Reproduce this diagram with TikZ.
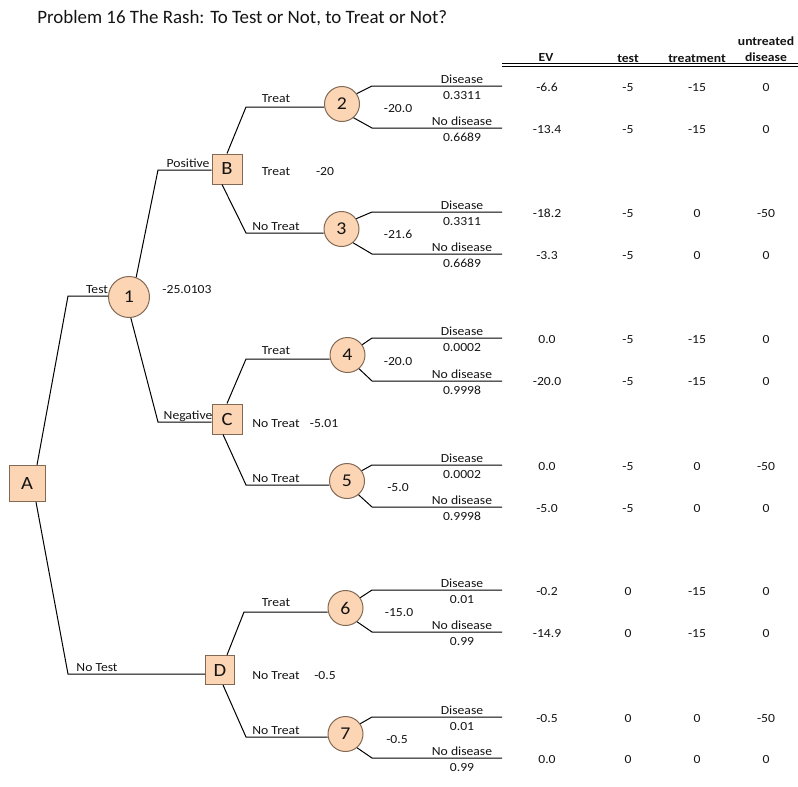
\documentclass[tikz,border=0pt]{standalone}
\usepackage{fontspec}
\setmainfont{Carlito}[FakeStretch=1.1]
\newfontfamily\titlefont{Carlito}
\usetikzlibrary{calc}
\definecolor{nodefill}{RGB}{252,213,180}
\definecolor{nodeborder}{RGB}{130,105,85}
\definecolor{txt}{RGB}{20,20,20}
\begin{document}
\begin{tikzpicture}[x=0.75pt,y=-0.75pt,
  decbox/.style={draw=nodeborder, fill=nodefill, minimum width=#1, minimum height=#1, inner sep=0pt, font=\fontsize{14}{16}\selectfont, line width=0.75pt, text=txt},
  chancenode/.style={circle, draw=nodeborder, fill=nodefill, minimum size=#1, inner sep=0pt, font=\fontsize{13.5}{16}\selectfont, line width=0.75pt, text=txt},
  lbl/.style={inner sep=0pt, font=\fontsize{9.3}{11}\selectfont, text=txt, text height=1.35ex, text depth=0pt},
  hdr/.style={lbl, font=\fontsize{9.3}{11}\selectfont\bfseries},
  br/.style={line width=0.75pt, black}]
\useasboundingbox (0,0) rectangle (798,786);

% title
\node[anchor=west, inner sep=0pt, font=\titlefont\fontsize{14.2}{17}\selectfont, text=txt] (title) at (37,18) {Problem 16 The Rash: To Test or Not, to Treat or Not?};

% table header
\node[hdr] (hEV) at (546,57) {EV};
\node[hdr] (hT) at (628,58) {test};
\node[hdr] (hTr) at (697,58) {treatment};
\node[hdr] (hU1) at (766,41) {untreated};
\node[hdr] (hU2) at (766,57) {disease};
\coordinate (hl1) at (502,63);
\coordinate (hr1) at (798,63);
\coordinate (hl2) at (502,66);
\coordinate (hr2) at (798,66);
\draw[br] (hl1) -- (hr1);
\draw[br] (hl2) -- (hr2);

% nodes
\node[decbox=27pt] (A) at (27,483.5) {A};
\node[chancenode=30.75pt] (n1) at (129,297) {1};
\node[decbox=22.5pt] (B) at (227,169) {B};
\node[decbox=22.5pt] (C) at (227,419) {C};
\node[decbox=21.75pt] (D) at (220,670) {D};
\node[chancenode=26.25pt] (n2) at (342,104) {2};
\node[chancenode=26.25pt] (n3) at (341.5,229) {3};
\node[chancenode=26.25pt] (n4) at (347.5,355) {4};
\node[chancenode=26.25pt] (n5) at (347,481) {5};
\node[chancenode=26.25pt] (n6) at (345.5,608) {6};
\node[chancenode=26.25pt] (n7) at (345.5,734) {7};

% corners
\coordinate (kT) at (68,296);
\coordinate (kNT) at (68,674);
\coordinate (kPos) at (158,170);
\coordinate (kNeg) at (158,422);
\coordinate (kB1) at (246,107);
\coordinate (kB2) at (246,233);
\coordinate (kC1) at (246,359);
\coordinate (kC2) at (246,485);
\coordinate (kD1) at (244,612);
\coordinate (kD2) at (246,737);

% branches
\draw[br] ($(A.north)+(10,0)$) -- (kT) -- (kT -| n1.west);
\draw[br] ($(A.south)+(9,0)$) -- (kNT) -- (kNT -| D.west);
\draw[br] (n1.70) -- (kPos) -- (kPos -| B.west);
\draw[br] (n1.-85) -- (kNeg) -- (kNeg -| C.west);
\draw[br] (B.north) -- (kB1) -- (kB1 -| n2.west);
\draw[br] ($(B.south)+(-5,0)$) -- (kB2) -- (kB2 -| n3.west);
\draw[br] (C.north) -- (kC1) -- (kC1 -| n4.west);
\draw[br] ($(C.south)+(-4,0)$) -- (kC2) -- (kC2 -| n5.west);
\draw[br] ($(D.north)+(7,0)$) -- (kD1) -- (kD1 -| n6.west);
\draw[br] ($(D.south)+(3,0)$) -- (kD2) -- (kD2 -| n7.west);

% branch labels
\node[lbl] (lTest) at (97,289) {Test};
\node[lbl] (lNoTest) at (97,667) {No Test};
\node[lbl] (lPos) at (188,163) {Positive};
\node[lbl] (lNeg) at (188,415) {Negative};
\node[lbl] (lB1) at (276,98) {Treat};
\node[lbl] (lB2) at (276,226) {No Treat};
\node[lbl] (lC1) at (276,350) {Treat};
\node[lbl] (lC2) at (276,478) {No Treat};
\node[lbl] (lD1) at (276,602) {Treat};
\node[lbl] (lD2) at (276,730) {No Treat};

% decision values
\node[lbl] (v1) at (187,289) {-25.0103};
\node[lbl] (vBa) at (276,171) {Treat};
\node[lbl] (vBb) at (325,171) {-20};
\node[lbl] (vCa) at (276,423) {No Treat};
\node[lbl] (vCb) at (324,423) {-5.01};
\node[lbl] (vDa) at (276,675) {No Treat};
\node[lbl] (vDb) at (325,675) {-0.5};

% chance values
\node[lbl] (v2) at (398,108) {-20.0};
\node[lbl] (v3) at (398,234) {-21.6};
\node[lbl] (v4) at (398,361) {-20.0};
\node[lbl] (v5) at (398,487) {-5.0};
\node[lbl] (v6) at (399,612) {-15.0};
\node[lbl] (v7) at (397,739) {-0.5};

% outcome branches
\foreach \n/\yu/\yl/\pa/\pb in {n2/86/128/0.3311/0.6689, n3/212/254/0.3311/0.6689, n4/338/381/0.0002/0.9998, n5/465/507/0.0002/0.9998, n6/590/632/0.01/0.99, n7/717/758/0.01/0.99}{
  \coordinate (\n ku) at (372,\yu);
  \coordinate (\n eu) at (502,\yu);
  \coordinate (\n kl) at (372,\yl);
  \coordinate (\n el) at (502,\yl);
  \draw[br] (\n.35) -- (\n ku) -- (\n eu);
  \draw[br] (\n.-50) -- (\n kl) -- (\n el);
  \node[lbl] at (462,\yu-7) {Disease};
  \node[lbl] at (462,\yu+9) {\pa};
  \node[lbl] at (462,\yl-7) {No disease};
  \node[lbl] at (462,\yl+9) {\pb};
}

% table rows
\foreach \y/\ev/\t/\tr/\u in {87/-6.6/-5/-15/0, 129/-13.4/-5/-15/0, 213/-18.2/-5/0/-50, 255/-3.3/-5/0/0, 339/0.0/-5/-15/0, 381/-20.0/-5/-15/0, 466/0.0/-5/0/-50, 508/-5.0/-5/0/0, 591/-0.2/0/-15/0, 633/-14.9/0/-15/0, 718/-0.5/0/0/-50, 759/0.0/0/0/0}{
  \node[lbl] at (547,\y) {\ev};
  \node[lbl] at (628,\y) {\t};
  \node[lbl] at (697,\y) {\tr};
  \node[lbl] at (766,\y) {\u};
}
\end{tikzpicture}
\end{document}
